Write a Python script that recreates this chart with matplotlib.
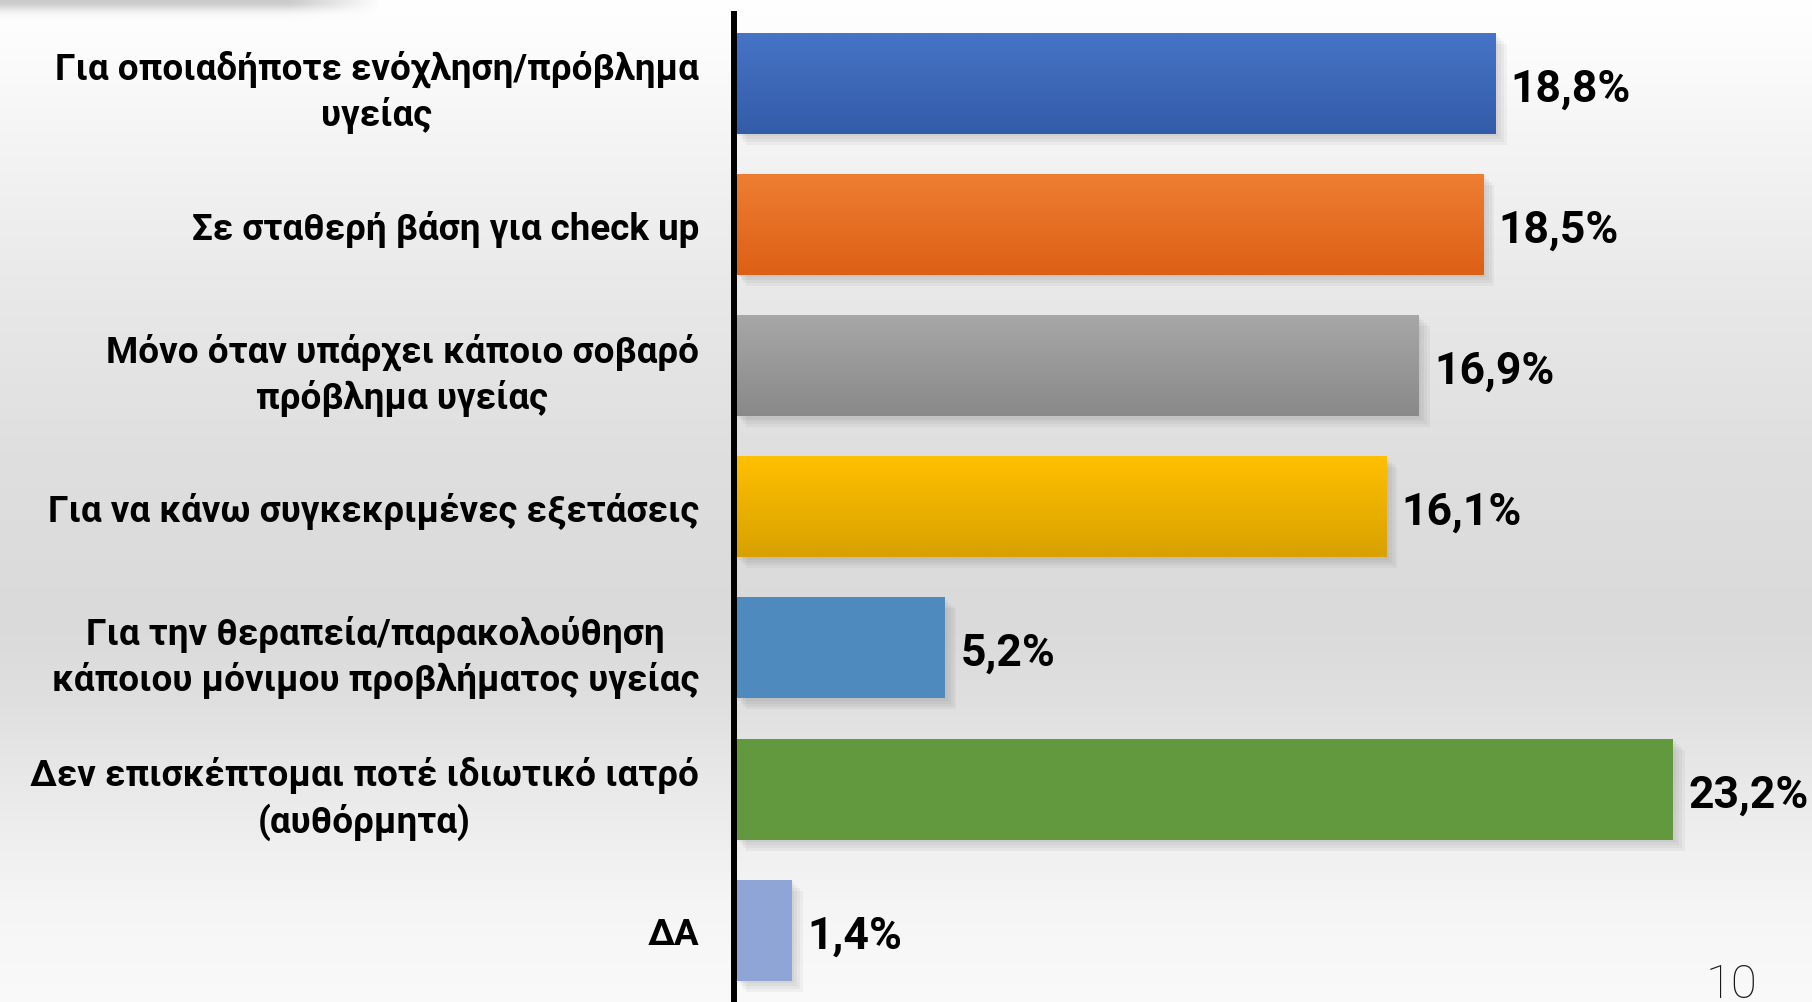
import numpy as np
import matplotlib
matplotlib.use("Agg")
import matplotlib.pyplot as plt
from matplotlib import patheffects as pe
from matplotlib.colors import LinearSegmentedColormap, to_rgb

plt.rcParams['font.family'] = ['Roboto', 'DejaVu Sans']

# ---------------- data ----------------
categories = [
    "Για οποιαδήποτε ενόχληση/πρόβλημα\nυγείας",
    "Σε σταθερή βάση για check up",
    "Μόνο όταν υπάρχει κάποιο σοβαρό\nπρόβλημα υγείας",
    "Για να κάνω συγκεκριμένες εξετάσεις",
    "Για την θεραπεία/παρακολούθηση\nκάποιου μόνιμου προβλήματος υγείας",
    "Δεν επισκέπτομαι ποτέ ιδιωτικό ιατρό\n(αυθόρμητα)",
    "ΔΑ",
]
values = [18.8, 18.5, 16.9, 16.1, 5.2, 23.2, 1.4]
value_labels = ["18,8%", "18,5%", "16,9%", "16,1%", "5,2%", "23,2%", "1,4%"]
page_number = "10"

# bar colours: (top, bottom) of vertical gradient
bar_colors = [
    ("#4674C6", "#335CA8"),
    ("#EE7E32", "#DC6016"),
    ("#A7A7A7", "#898989"),
    ("#FFC000", "#D8A100"),
    ("#4F8ABE", "#4F8ABE"),
    ("#62993E", "#62993E"),
    ("#8FA5D5", "#8FA5D5"),
]

W, H = 1812, 1003
fig = plt.figure(figsize=(W / 100, H / 100), dpi=100)

# ---------------- background gradient ----------------
bg_ax = fig.add_axes([0, 0, 1, 1], zorder=-10)
bg_ax.set_axis_off()
stops_y = np.array([0, 60, 150, 300, 450, 620, 700, 800, 900, 1003]) / H
stops_v = np.array([1.0, 0.985, 0.955, 0.91, 0.875, 0.855, 0.875, 0.92, 0.96, 0.98])
yy = np.linspace(0, 1, 500)
col = np.interp(yy, stops_y, stops_v)
bg = np.repeat(col[:, None], 2, axis=1)
bg_ax.imshow(np.dstack([bg, bg, bg]), aspect='auto', extent=[0, 1, 1, 0],
             interpolation='bilinear')
# soft smear at top-left
sh_h, sh_w = 60, 400
ys = np.arange(sh_h)[:, None]
xs = np.arange(sh_w)[None, :]
alpha = 0.45 * np.exp(-((ys - 2) / 9.0) ** 2) * np.clip((380 - xs) / 90, 0, 1)
rgba = np.zeros((sh_h, sh_w, 4))
rgba[..., :3] = 0.55
rgba[..., 3] = alpha
bg_ax.imshow(rgba, aspect='auto', extent=[0, sh_w / W, sh_h / H, 0],
             interpolation='bilinear')
bg_ax.set_xlim(0, 1)
bg_ax.set_ylim(1, 0)

# ---------------- main axes ----------------
left_px = 735
px_per_unit = 40.45
first_center, pitch = 84, 141.2
ax = fig.add_axes([left_px / W, 0, 1 - left_px / W, 1])
ax.set_facecolor('none')

ypos = np.arange(len(categories))
bar_h = 101 / pitch
bars = ax.barh(ypos, values, height=bar_h, color=[c[0] for c in bar_colors],
               zorder=2)

shadow = [pe.SimplePatchShadow(offset=(k, -k), shadow_rgbFace='#555555', alpha=0.06)
          for k in (2, 4, 6, 8)] + [pe.Normal()]
for b, (ctop, cbot) in zip(bars, bar_colors):
    b.set_path_effects(shadow)
    if ctop != cbot:
        x0, y0 = b.get_x(), b.get_y()
        w, h = b.get_width(), b.get_height()
        cmap = LinearSegmentedColormap.from_list('g', [to_rgb(ctop), to_rgb(cbot)])
        grad = np.linspace(0, 1, 100)[:, None]
        im = ax.imshow(grad, cmap=cmap, aspect='auto',
                       extent=[x0, x0 + w, y0 + h, y0], zorder=2.5,
                       interpolation='bilinear')
        im.set_clip_path(b)

ax.set_xlim(0, (W - left_px) / px_per_unit)
ax.set_ylim((H - first_center) / pitch, -first_center / pitch)

for b, lab in zip(bars, value_labels):
    ax.annotate(lab, xy=(b.get_width(), b.get_y() + b.get_height() / 2),
                xytext=(11, -12.5), textcoords='offset points',
                ha='left', va='baseline', fontsize=32, fontweight='bold',
                color='black', zorder=5)

# vertical axis line (centred just left of the bars' base)
ax.axvline(-1.5 / px_per_unit, ymin=0, ymax=(H - 12) / H, color='black', lw=4.3,
           zorder=4, solid_capstyle='butt', clip_on=False)

ax.set_yticks(ypos)
ax.set_yticklabels(categories, fontsize=26.5, fontweight='bold', linespacing=1.32)
for t in ax.get_yticklabels():
    t.set_multialignment('center')
ax.tick_params(axis='y', length=0, pad=26)
ax.tick_params(axis='x', bottom=False, labelbottom=False)
for s in ax.spines.values():
    s.set_visible(False)

fig.text(1731 / W, 5 / H, page_number, ha='center', va='baseline', fontsize=34,
         fontweight='light', color='#1a1a1a')

fig.savefig("out.png", dpi=100)
